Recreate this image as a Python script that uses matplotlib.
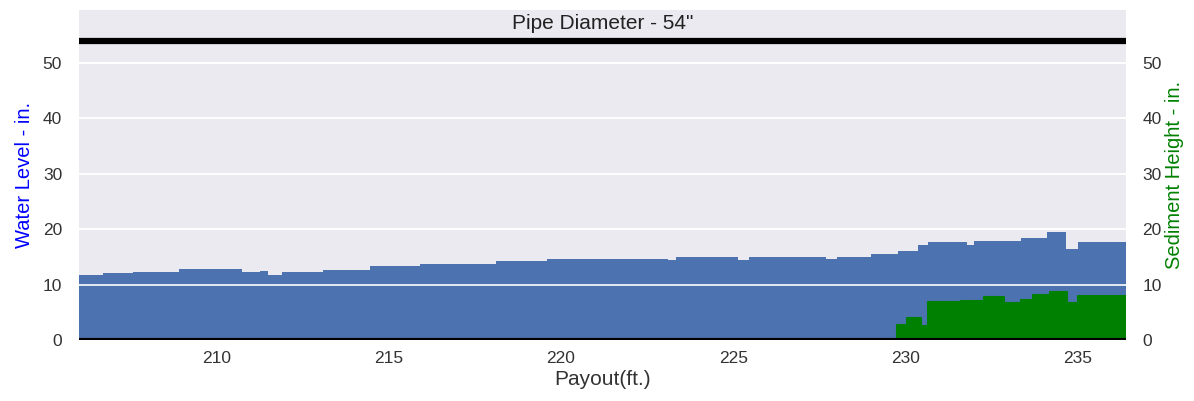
import numpy as np
import matplotlib.pyplot as plt

plt.rcParams['font.family'] = ['Liberation Sans', 'DejaVu Sans']

pipe_diameter = 54

# water level profile along the run (step edges)
water_x = [206.0, 206.7, 207.56, 208.9, 210.75, 211.25, 211.5, 211.9, 213.1,
           214.45, 215.9, 216.9, 218.1, 219.6, 220.55, 223.1, 223.35, 225.15,
           225.45, 227.7, 228.0, 229.0, 229.77, 230.35, 230.64, 231.8, 232.0,
           233.35, 234.1, 234.65, 235.0, 236.4]
water_level = [11.7, 12.1, 12.3, 12.8, 12.3, 12.5, 11.7, 12.2, 12.7,
               13.4, 13.7, 13.8, 14.3, 14.6, 14.7, 14.4, 14.9, 14.4,
               15.0, 14.6, 15.0, 15.6, 16.1, 17.1, 17.7, 17.1, 17.9,
               18.4, 19.4, 16.4, 17.7, 17.7]

# sediment height, only logged from 220 ft on
sed_x = [220.0, 229.74, 230.05, 230.45, 230.65, 231.6, 232.27, 232.85, 233.35,
         233.7, 234.2, 234.68, 235.0, 236.4]
sed_height = [0.0, 2.7, 3.9, 2.6, 6.9, 7.1, 7.8, 6.7, 7.3,
              8.1, 8.7, 6.7, 7.9, 7.9]

x_ticks = [210, 215, 220, 225, 230, 235]
y_ticks = [0, 10, 20, 30, 40, 50]

bg = '#EAEAF0'
blue = '#4C72B0'
green = '#008000'
txt = '#333333'

fig = plt.figure(figsize=(11.94, 4.01), dpi=100, facecolor='white')
ax1 = fig.add_axes([0.066, 0.152, 0.877, 0.823])
ax1.set_facecolor(bg)
ax1.fill_between(water_x, 0, water_level, step='post', color=blue, lw=0)
ax1.set_xlim(206.0, 236.4)
ax1.set_ylim(0, 59.5)
ax1.set_xticks(x_ticks)
ax1.set_yticks(y_ticks)
ax1.grid(True, axis='y', color='white', lw=1.2)
ax1.set_axisbelow(True)
for s in ax1.spines.values():
    s.set_visible(False)
ax1.tick_params(length=0, labelsize=12.5, labelcolor=txt)
ax1.tick_params(axis='y', pad=12)
ax1.tick_params(axis='x', pad=8)
ax1.set_xlabel('Payout(ft.)', fontsize=15, color=txt, labelpad=3)
ax1.set_ylabel('Water Level - in.', fontsize=14.5, color='blue', labelpad=6)

ax2 = ax1.twinx()
ax2.fill_between(sed_x, 0, sed_height, step='post', color=green, lw=0)
ax2.step(sed_x, sed_height, where='post', color=green, lw=1.5)
ax2.set_ylim(0, 59.5)
ax2.set_yticks(y_ticks)
ax2.grid(True, axis='y', color='white', lw=1.2)
ax2.grid(False, axis='x')
for s in ax2.spines.values():
    s.set_visible(False)
ax2.tick_params(length=0, labelsize=12.5, labelcolor=txt, pad=12)
ax2.set_ylabel('Sediment Height - in.', fontsize=14.5, color=green, labelpad=2)

# pipe invert and crown
ax2.axhline(0, color='black', lw=3)
ax2.axhline(pipe_diameter, color='black', lw=4.5)
ax2.text(np.mean(ax1.get_xlim()), 57.0, 'Pipe Diameter - %d"' % pipe_diameter,
         ha='center', va='center', fontsize=15, color='#222222')

fig.savefig('out.png', dpi=100, facecolor='white')
